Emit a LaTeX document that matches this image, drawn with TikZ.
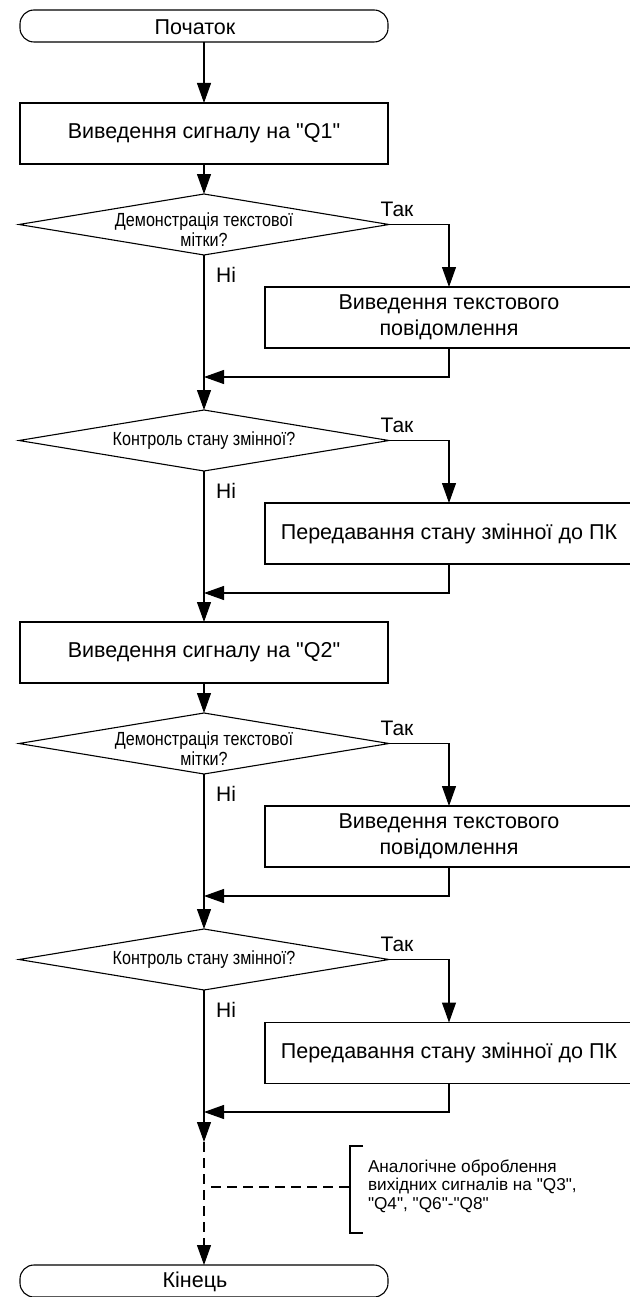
\documentclass[tikz,border=0pt]{standalone}
\usepackage{fontspec}
\setmainfont{Liberation Sans}[Ligatures=TeXOff]
\usetikzlibrary{shapes.geometric,arrows.meta}
\begin{document}
\begin{tikzpicture}[x=1pt,y=-1pt,line width=1.1pt,
  every node/.style={inner sep=0pt,outer sep=0pt},
  term/.style={draw,rectangle,rounded corners=14pt,minimum width=368pt,minimum height=32pt},
  ttext/.style={font=\fontsize{21.5}{25}\selectfont},
  proc/.style={draw,rectangle,minimum width=368pt,minimum height=61pt,align=center,font=\fontsize{21.5}{26}\selectfont},
  dec/.style={draw,diamond,minimum width=370pt,minimum height=61pt},
  dtext/.style={align=center,xscale=0.85,font=\fontsize{19}{20}\selectfont},
  lbl/.style={font=\fontsize{21}{24}\selectfont},
  arr/.style={-{Triangle[length=20pt,width=14pt]}},
  dsh/.style={dash pattern=on 10pt off 6pt}]
\useasboundingbox (0,0) rectangle (629,1297);

\node[term] (start) at (204,26) {};
\node[ttext] (startt) at (195,27) {Початок};
\node[proc] (q1) at (204,133.5) {Виведення сигналу на "Q1"};

\node[dec] (d1) at (204,224.5) {};
\node[dtext] (d1t) at (204,230) {Демонстрація текстової\\мітки?};
\node[proc] (b1) at (449,317.5) {Виведення текстового\\повідомлення};

\node[dec] (d2) at (204,440.5) {};
\node[dtext] (d2t) at (204,440.5) {Контроль стану змінної?};
\node[proc] (b2) at (449,533.5) {Передавання стану змінної до ПК};

\node[proc] (q2) at (204,652.5) {Виведення сигналу на "Q2"};

\node[dec] (d3) at (204,743.5) {};
\node[dtext] (d3t) at (204,749) {Демонстрація текстової\\мітки?};
\node[proc] (b3) at (449,836.5) {Виведення текстового\\повідомлення};

\node[dec] (d4) at (204,959.5) {};
\node[dtext] (d4t) at (204,959.5) {Контроль стану змінної?};
\node[proc] (b4) at (449,1053) {Передавання стану змінної до ПК};

\node[term] (end) at (204,1281) {};
\node[ttext] (endt) at (195,1282) {Кінець};

% labels
\node[lbl] (y1) at (397,209) {Так};
\node[lbl] (n1) at (226,275) {Ні};
\node[lbl] (y2) at (397,425) {Так};
\node[lbl] (n2) at (226,491) {Ні};
\node[lbl] (y3) at (397,728) {Так};
\node[lbl] (n3) at (226,794) {Ні};
\node[lbl] (y4) at (397,944) {Так};
\node[lbl] (n4) at (226,1010) {Ні};

% coordinates on the main line
\coordinate (r1) at (204,377);
\coordinate (r2) at (204,593);
\coordinate (r3) at (204,896);
\coordinate (r4) at (204,1112);
\coordinate (m) at (204,1142);

\draw[arr] (start) -- (q1);
\draw[arr] (q1) -- (d1);
\draw[arr] (d1.east) -| (b1.north);
\draw[arr] (d1.south) -- (d2.north);
\draw[arr] (b1.south) |- (r1);

\draw[arr] (d2.east) -| (b2.north);
\draw[arr] (d2.south) -- (q2.north);
\draw[arr] (b2.south) |- (r2);

\draw[arr] (q2) -- (d3);
\draw[arr] (d3.east) -| (b3.north);
\draw[arr] (d3.south) -- (d4.north);
\draw[arr] (b3.south) |- (r3);

\draw[arr] (d4.east) -| (b4.north);
\draw[arr] (d4.south) -- (m);
\draw[arr] (b4.south) |- (r4);

\draw[arr,dsh] (m) -- (end.north);

% annotation
\node[anchor=west,align=left,font=\fontsize{17.2}{18.5}\selectfont] (note) at (368,1186) {Аналогічне оброблення\\вихідних сигналів на "Q3",\\"Q4", "Q6"-"Q8"};
\coordinate (bt) at (363,1146);
\coordinate (bb) at (363,1233);
\coordinate (bm) at (350,1187);
\coordinate (dm) at (211,1187);
\draw (bt) -- (350,1146) -- (350,1233) -- (bb);
\draw[dsh] (dm) -- (bm);
\end{tikzpicture}
\end{document}
